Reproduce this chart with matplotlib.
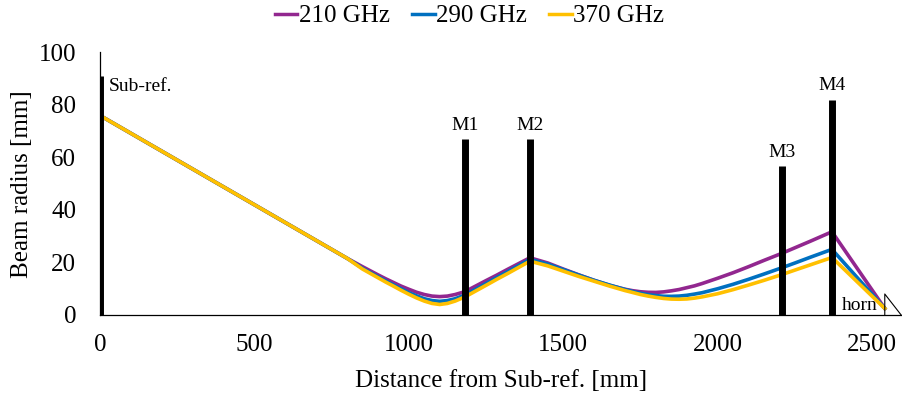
import matplotlib
matplotlib.use("Agg")
import matplotlib.pyplot as plt

# ---- data ----
x_pos = [0, 200, 400, 600, 800, 850, 900, 925, 950, 975, 1000, 1025, 1050,
         1075, 1100, 1125, 1150, 1182, 1250, 1285, 1320, 1392, 1450, 1500,
         1550, 1600, 1650, 1700, 1725, 1750, 1775, 1800, 1825, 1850, 1875,
         1900, 1925, 1950, 2000, 2050, 2100, 2150, 2208, 2250, 2300, 2335,
         2370, 2541]
r_210 = [76, 62.4, 48.8, 35.2, 21.6, 18.4, 15.3, 13.8, 12.4, 11.0, 9.8, 8.66,
         7.8, 7.2, 7.0, 7.2, 7.8, 8.9, 13.1, 15.2, 17.4, 21.8, 19.8, 17.5,
         15.3, 13.2, 11.3, 9.8, 9.25, 8.85, 8.64, 8.6, 8.8, 9.2, 9.7,
         10.4, 11.1, 12.0, 14.0, 16.1, 18.4, 20.8, 23.5, 25.6, 28.1, 29.9,
         31.7, 2.5]
r_290 = [76, 62.4, 48.8, 35.2, 21.6, 17.8, 14.6, 13.0, 11.5, 10.0, 8.5, 7.3,
         6.2, 5.5, 5.2, 5.5, 6.2, 7.6, 12.0, 14.3, 16.5, 21.2, 19.4, 17.3,
         15.2, 13.2, 11.4, 9.7, 8.95, 8.3, 7.76, 7.4, 7.13, 7.1, 7.2,
         7.5, 7.96, 8.5, 10.0, 11.7, 13.6, 15.6, 18.0, 19.8, 22.0, 23.5,
         25.0, 2.5]
r_370 = [76, 62.4, 48.8, 35.2, 21.6, 17.5, 14.2, 12.55, 11.0, 9.4, 7.9, 6.5,
         5.3, 4.4, 4.0, 4.4, 5.3, 6.9, 11.3, 13.6, 15.8, 20.5, 18.7, 16.7,
         14.7, 12.85, 11.0, 9.3, 8.56, 7.8, 7.2, 6.7, 6.3, 6.06, 6.0,
         6.1, 6.43, 6.9, 8.1, 9.66, 11.4, 13.2, 15.4, 17.1, 19.1, 20.5,
         21.9, 2.5]
series_labels = ["210 GHz", "290 GHz", "370 GHz"]
series_colors = ["#92278F", "#0070C0", "#FFC000"]

elem_names = ["Sub-ref.", "M1", "M2", "M3", "M4"]
elem_x = [0, 1182, 1392, 2208, 2370]
elem_h = [91, 67, 67, 56.6, 82]

horn_x = [2541, 2541, 2594]
horn_y = [0, 8, 0]

x_ticks = [0, 500, 1000, 1500, 2000, 2500]
y_ticks = [0, 20, 40, 60, 80, 100]

# ---- figure ----
plt.rcParams['font.family'] = ['Liberation Serif', 'DejaVu Serif']
fig = plt.figure(figsize=(9.03, 3.93), dpi=100)
ax = fig.add_axes([0.1107, 0.1985, 0.8893, 0.668])

for ys, lab, col in zip([r_210, r_290, r_370], series_labels, series_colors):
    ax.plot(x_pos, ys, color=col, lw=2.6, label=lab, zorder=2,
            solid_joinstyle='round')

for name, xe, he in zip(elem_names, elem_x, elem_h):
    ax.vlines(xe, 0, he, color='black', lw=5, zorder=3)
    if name == "Sub-ref.":
        ax.text(xe + 30, he - 4, name, fontsize=14, ha='left', va='center')
    else:
        ax.text(xe, he + 2, name, fontsize=14, ha='center', va='bottom')

ax.plot(horn_x, horn_y, color='black', lw=0.8, zorder=3)
ax.text(2517, 0.3, "horn", fontsize=14, ha='right', va='bottom')

ax.set_xlim(0, 2600)
ax.set_ylim(0, 100)
ax.set_xticks(x_ticks)
ax.set_yticks(y_ticks)
ax.tick_params(axis='both', length=0, labelsize=18)
ax.tick_params(axis='x', pad=14)
ax.tick_params(axis='y', pad=17)
for s in ['right', 'top']:
    ax.spines[s].set_visible(False)
for s in ['left', 'bottom']:
    ax.spines[s].set_linewidth(0.9)
    ax.spines[s].set_color('black')

ax.set_xlabel("Distance from Sub-ref. [mm]", fontsize=18, labelpad=10)
ax.set_ylabel("Beam radius [mm]", fontsize=18, labelpad=4)

leg = fig.legend(loc='upper center', bbox_to_anchor=(0.52, 1.045), ncol=3,
                 frameon=False, fontsize=18, handlelength=0.9,
                 handletextpad=0.05, columnspacing=0.9)
for h in leg.get_lines():
    h.set_linewidth(2.5)

fig.savefig("out.png", dpi=100)
